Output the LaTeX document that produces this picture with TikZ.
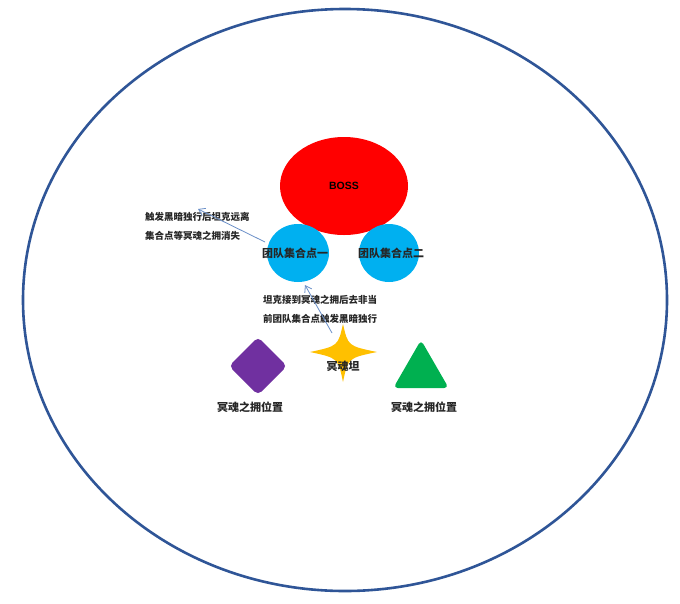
\documentclass[tikz,border=0pt]{standalone}
\usepackage{fontspec}
\setmainfont{Liberation Sans}
\newfontfamily\cjk{Noto Sans CJK SC}
\usetikzlibrary{arrows.meta,shapes.geometric}
\definecolor{ringblue}{HTML}{2F5597}
\definecolor{bossred}{HTML}{FF0000}
\definecolor{teamblue}{HTML}{00B0F0}
\definecolor{purp}{HTML}{7030A0}
\definecolor{gold}{HTML}{FFC000}
\definecolor{grn}{HTML}{00B050}
\definecolor{arrowblue}{HTML}{6A8FC8}
\tikzset{
  lbl/.style={font=\cjk\bfseries\fontsize{11}{13}\selectfont, inner sep=0pt, text=black!85},
  note/.style={font=\cjk\bfseries\fontsize{9.5}{19.5}\selectfont, inner sep=0pt, align=left, text=black!85},
  pointer/.style={draw=arrowblue, line width=0.8pt, -{Straight Barb[length=6pt,width=8pt]}},
}
\begin{document}
\begin{tikzpicture}[x=1pt,y=-1pt]
\useasboundingbox (0,0) rectangle (680,603);
\fill[white] (0,0) rectangle (680,603);
% outer ring
\draw[ringblue, line width=2.6pt] (345,300) ellipse [x radius=322, y radius=291];
% boss
\node[ellipse, fill=bossred, minimum width=128, minimum height=98, inner sep=0pt,
      font=\bfseries\fontsize{10.5}{12}\selectfont] (boss) at (344,186) {BOSS};
% team points
\node[ellipse, fill=teamblue, minimum width=62, minimum height=58, inner sep=0pt] (t1) at (298,253) {};
\node[ellipse, fill=teamblue, minimum width=60, minimum height=58, inner sep=0pt] (t2) at (389,253) {};
\node[lbl] (t1l) at (295,253) {团队集合点一};
\node[lbl] (t2l) at (391,253) {团队集合点二};
% notes
\node[note, anchor=north west] (n1) at (145,212) {触发黑暗独行后坦克远离\\集合点等冥魂之拥消失};
\node[note, anchor=north west] (n2) at (263,295) {坦克接到冥魂之拥后去非当\\前团队集合点触发黑暗独行};
% diamond
\node[diamond, fill=purp, draw=purp, line width=2pt, rounded corners=4pt, minimum width=56, minimum height=56, inner sep=0pt] (dia) at (258,366) {};
\node[lbl] (dial) at (250,407) {冥魂之拥位置};
% star
\coordinate (st) at (343,352);
\fill[gold] (343,324) .. controls (348,346) .. (377,352)
  .. controls (348,358) .. (343,382)
  .. controls (338,358) .. (310,352)
  .. controls (338,346) .. cycle;
\node[lbl] (stl) at (343,366) {冥魂坦};
% triangle
\node[regular polygon, regular polygon sides=3, fill=grn, draw=grn, line width=2pt, rounded corners=3pt, minimum size=60, inner sep=0pt] (tri) at (421,372) {};
\node[lbl] (tril) at (424,407) {冥魂之拥位置};
% arrows
\coordinate (a1s) at (265,242);
\coordinate (a1e) at (198,209);
\coordinate (a2s) at (332,333);
\coordinate (a2e) at (305,285);
\draw[pointer] (a1s) -- (a1e);
\draw[pointer] (a2s) -- (a2e);
\end{tikzpicture}
\end{document}
